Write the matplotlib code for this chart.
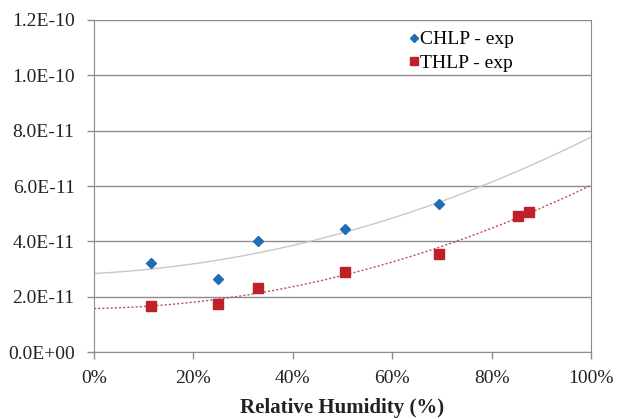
import numpy as np
import matplotlib.pyplot as plt
from matplotlib.ticker import FuncFormatter, PercentFormatter

# relative humidity (fraction) and values
rh_chlp = [0.115, 0.25, 0.33, 0.505, 0.695]
val_chlp = [3.22e-11, 2.64e-11, 4.01e-11, 4.43e-11, 5.35e-11]

rh_thlp = [0.115, 0.25, 0.33, 0.505, 0.695, 0.854, 0.875]
val_thlp = [1.66e-11, 1.75e-11, 2.32e-11, 2.89e-11, 3.55e-11, 4.92e-11, 5.06e-11]

plt.rcParams['font.family'] = ['Liberation Serif', 'DejaVu Serif']

fig = plt.figure(figsize=(6.18, 4.19), dpi=100)
ax = fig.add_axes([94 / 618, 1 - 352 / 419, 497 / 618, 332 / 419])

grey = '#8c8c8c'
xx = np.linspace(0, 1, 200)

# 2nd order trend lines (like excel polynomial trendline)
p1 = np.polyfit(rh_chlp, val_chlp, 2)
p2 = np.polyfit(rh_thlp, val_thlp, 2)
ax.plot(xx, np.polyval(p1, xx), color='#c8c8c8', lw=1, zorder=2)
ax.plot(xx, np.polyval(p2, xx), color='#c0504d', lw=1, ls=(0, (1.5, 1.5)), zorder=2)

ax.plot(rh_chlp, val_chlp, 'D', color='#1f6db5', ms=5.5, ls='none', label='CHLP - exp', zorder=3)
ax.plot(rh_thlp, val_thlp, 's', color='#c0202a', ms=7, ls='none', label='THLP - exp', zorder=3)

ax.set_xlim(0, 1)
ax.set_ylim(0, 1.2e-10)
ax.set_xticks(np.arange(0, 1.01, 0.2))
ax.set_yticks(np.arange(0, 1.21e-10, 2e-11))
ax.xaxis.set_major_formatter(PercentFormatter(xmax=1, decimals=0))
ax.yaxis.set_major_formatter(FuncFormatter(lambda v, p: '%.1E' % v))
ax.yaxis.grid(True, color=grey, lw=1)
ax.set_axisbelow(True)
for s in ax.spines.values():
    s.set_color(grey)
ax.spines['top'].set_visible(False)
ax.tick_params(colors=grey, labelcolor='#222222', labelsize=14, length=5, width=1)
ax.tick_params(axis='x', pad=8)
ax.tick_params(axis='y', pad=9)

ax.set_xlabel('Relative Humidity (%)', fontsize=15, fontweight='bold', color='#222222', labelpad=8)

ax.legend(loc='upper right', bbox_to_anchor=(0.88, 1.02), frameon=False, fontsize=14,
          handlelength=0.4, handletextpad=0.1, labelspacing=0.3, markerscale=0.75)

plt.savefig('out.png')
